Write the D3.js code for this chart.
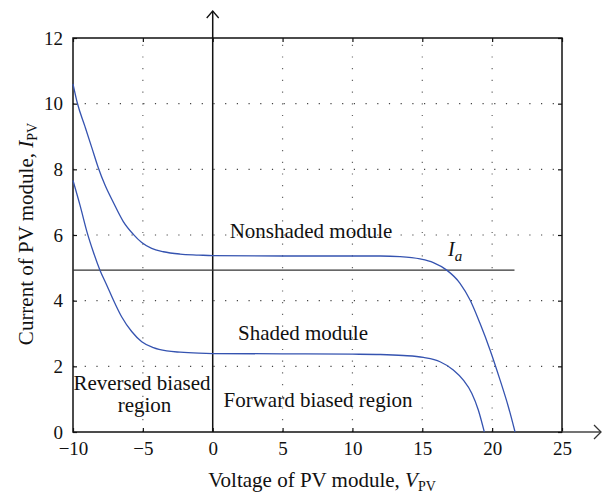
<!DOCTYPE html>
<html>
<head>
<meta charset="utf-8">
<script src="https://cdn.jsdelivr.net/npm/d3@7"></script>
<style>
  html, body { margin: 0; padding: 0; background: #fff; }
  svg { display: block; }
  text { font-family: "Liberation Serif", "Times New Roman", serif; fill: #111; }
</style>
</head>
<body>
<svg id="chart" width="604" height="495"></svg>
<script>
// I–V characteristics of a PV module, nonshaded vs. shaded
const nonshadedV = [-10, -9.69, -9.14, -8.66, -8.19, -7.71, -7.11, -6.4, -5.68, -5.08, -4.37, -3.53, -2.34, -1.0, 0, 5, 10, 12, 13.4, 14.84, 15.79, 16.75, 17.7, 18.42, 19.13, 19.85, 20.57, 21.16, 21.64];
const nonshadedI = [10.6, 10.02, 9.3, 8.67, 8.05, 7.52, 6.99, 6.41, 6.02, 5.77, 5.59, 5.49, 5.42, 5.39, 5.37, 5.36, 5.36, 5.36, 5.34, 5.27, 5.16, 4.93, 4.53, 4.02, 3.31, 2.5, 1.58, 0.77, 0];

const shadedV = [-10, -9.5, -8.97, -8.55, -8.07, -7.59, -7.11, -6.52, -5.8, -5.08, -4.25, -3.29, -2.34, -1.0, 0, 5, 10, 12, 13.64, 15.08, 16.27, 17.22, 17.94, 18.54, 19.01, 19.44];
const shadedI = [7.66, 6.91, 6.05, 5.49, 4.93, 4.48, 4.02, 3.51, 3.06, 2.75, 2.57, 2.47, 2.43, 2.40, 2.39, 2.38, 2.37, 2.36, 2.33, 2.27, 2.14, 1.89, 1.58, 1.18, 0.67, 0];

// Operating current I_a (horizontal reference line)
const currentIa = 4.93;
const iaLineV = [-10, 21.6];

const xTicks = [-10, -5, 0, 5, 10, 15, 20, 25];
const yTicks = [0, 2, 4, 6, 8, 10, 12];

const svg = d3.select("#chart");
const plotL = 73, plotR = 562, plotT = 38, plotB = 432;

const x = d3.scaleLinear().domain([-10, 25]).range([plotL, plotR]);
const y = d3.scaleLinear().domain([0, 12]).range([plotB, plotT]);

// Dotted grid
const grid = svg.append("g");
grid.selectAll("line.gx")
  .data(xTicks.filter(d => d > -10 && d < 25 && d !== 0))
  .join("line")
  .attr("x1", d => x(d)).attr("x2", d => x(d))
  .attr("y1", plotB).attr("y2", plotT)
  .attr("stroke", "#666").attr("stroke-width", 1.2)
  .attr("stroke-dasharray", "1.2,10.5");
grid.selectAll("line.gy")
  .data(yTicks.filter(d => d > 0 && d < 12))
  .join("line")
  .attr("x1", plotL).attr("x2", plotR)
  .attr("y1", d => y(d)).attr("y2", d => y(d))
  .attr("stroke", "#444").attr("stroke-width", 1.2)
  .attr("stroke-dasharray", "1.2,10.5");

// Axes with inward ticks on all sides
const tickLen = 4;
const axB = svg.append("g").attr("transform", `translate(0,${plotB})`)
  .call(d3.axisBottom(x).tickValues(xTicks).tickSizeInner(-tickLen).tickSizeOuter(0).tickPadding(10)
    .tickFormat(d => d < 0 ? "\u2212" + Math.abs(d) : d));
const axT = svg.append("g").attr("transform", `translate(0,${plotT})`)
  .call(d3.axisTop(x).tickValues(xTicks).tickSizeInner(-tickLen).tickSizeOuter(0).tickFormat(""));
const axL = svg.append("g").attr("transform", `translate(${plotL},0)`)
  .call(d3.axisLeft(y).tickValues(yTicks).tickSizeInner(-tickLen).tickSizeOuter(0).tickPadding(10));
const axR = svg.append("g").attr("transform", `translate(${plotR},0)`)
  .call(d3.axisRight(y).tickValues(yTicks).tickSizeInner(-tickLen).tickSizeOuter(0).tickFormat(""));

[axB, axT, axL, axR].forEach(a => {
  a.select(".domain").remove();
  a.selectAll(".tick line").attr("stroke", "#111").attr("stroke-width", 1.2);
  a.selectAll(".tick text").attr("font-size", 19).attr("fill", "#111");
});

// Frame
svg.append("rect")
  .attr("x", plotL).attr("y", plotT)
  .attr("width", plotR - plotL).attr("height", plotB - plotT)
  .attr("fill", "none").attr("stroke", "#111").attr("stroke-width", 1.5);

// Arrowed axis extensions
svg.append("line")
  .attr("x1", plotR).attr("x2", 601).attr("y1", plotB).attr("y2", plotB)
  .attr("stroke", "#444").attr("stroke-width", 1.5);
svg.append("path")
  .attr("d", `M${594},${plotB - 7}L${601},${plotB}L${594},${plotB + 7}`)
  .attr("fill", "none").attr("stroke", "#333").attr("stroke-width", 1.3);

svg.append("line")
  .attr("x1", x(0)).attr("x2", x(0)).attr("y1", plotB).attr("y2", 11)
  .attr("stroke", "#111").attr("stroke-width", 1.5);
svg.append("path")
  .attr("d", `M${x(0) - 6},${18}L${x(0)},${11}L${x(0) + 6},${18}`)
  .attr("fill", "none").attr("stroke", "#111").attr("stroke-width", 1.3);

// I_a reference line
svg.append("line")
  .attr("x1", x(iaLineV[0])).attr("x2", x(iaLineV[1]))
  .attr("y1", y(currentIa)).attr("y2", y(currentIa))
  .attr("stroke", "#333").attr("stroke-width", 1.3);

// Curves
const line = d3.line().x(d => x(d[0])).y(d => y(d[1])).curve(d3.curveMonotoneX);
const series = [
  d3.zip(nonshadedV, nonshadedI),
  d3.zip(shadedV, shadedI)
];
svg.selectAll("path.curve").data(series).join("path")
  .attr("class", "curve")
  .attr("d", line)
  .attr("fill", "none").attr("stroke", "#3553b0").attr("stroke-width", 1.3);

// Annotations
function label(txt, cx, cy, size) {
  return svg.append("text").attr("x", cx).attr("y", cy)
    .attr("text-anchor", "middle").attr("font-size", size).text(txt);
}
label("Nonshaded module", 311, 238, 21);
label("Shaded module", 303, 340, 21);
label("Reversed biased", 142, 390, 21);
label("region", 144.5, 412, 21);
label("Forward biased region", 318, 407, 21);

const ia = svg.append("text").attr("x", 448).attr("y", 256).attr("font-size", 20);
ia.append("tspan").attr("font-style", "italic").text("I");
ia.append("tspan").attr("font-style", "italic").attr("font-size", 15).attr("dy", 5).text("a");

// Axis titles
const xt = svg.append("text").attr("x", 322).attr("y", 487)
  .attr("text-anchor", "middle").attr("font-size", 21);
xt.append("tspan").text("Voltage of PV module, ");
xt.append("tspan").attr("font-style", "italic").text("V");
xt.append("tspan").attr("font-size", 14).attr("dy", 4).text("PV");

const yt = svg.append("text")
  .attr("transform", `translate(33,234) rotate(-90)`)
  .attr("text-anchor", "middle").attr("font-size", 21);
yt.append("tspan").text("Current of PV module, ");
yt.append("tspan").attr("font-style", "italic").text("I");
yt.append("tspan").attr("font-size", 14).attr("dy", 4).text("PV");
</script>
</body>
</html>
